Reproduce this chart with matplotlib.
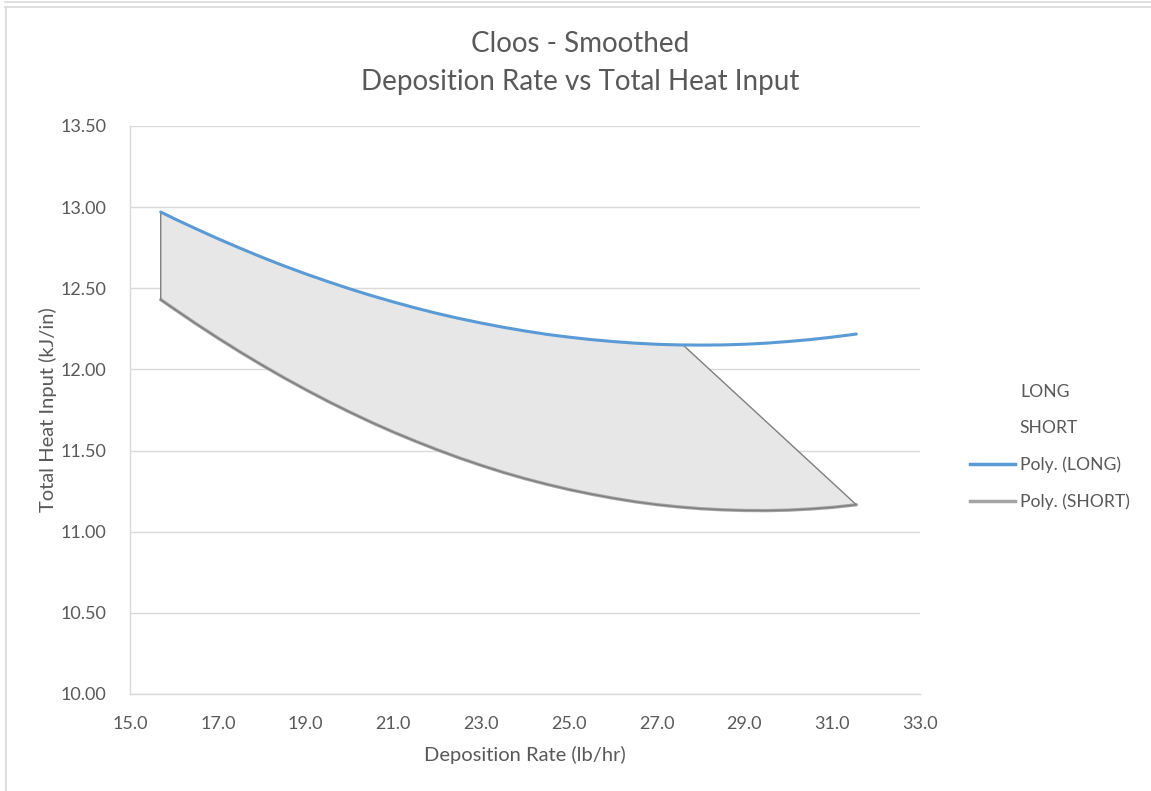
import matplotlib
matplotlib.use("Agg")
import matplotlib.pyplot as plt
from matplotlib.lines import Line2D
from matplotlib.patches import Polygon

plt.rcParams['font.family'] = ['Lato', 'DejaVu Sans']

# Deposition rate (lb/hr) and smoothed heat input (kJ/in) for each torch setup
long_x = [15.7, 16.0, 16.5, 17.0, 17.5, 18.0, 18.5, 19.0, 19.5, 20.0, 20.5, 21.0,
          21.5, 22.0, 22.5, 23.0, 23.5, 24.0, 24.5, 25.0, 25.5, 26.0, 26.5, 27.0,
          27.5, 27.6, 28.0, 28.5, 29.0, 29.5, 30.0, 30.5, 31.0, 31.55]
long_y = [12.970, 12.930, 12.867, 12.806, 12.748, 12.692, 12.639, 12.589, 12.542,
          12.497, 12.455, 12.416, 12.379, 12.345, 12.314, 12.286, 12.260, 12.237,
          12.216, 12.199, 12.184, 12.172, 12.162, 12.155, 12.151, 12.151, 12.150,
          12.151, 12.155, 12.162, 12.172, 12.184, 12.199, 12.218]

short_x = [15.7, 16.0, 16.5, 17.0, 17.5, 18.0, 18.5, 19.0, 19.5, 20.0, 20.5, 21.0,
           21.5, 22.0, 22.5, 23.0, 23.5, 24.0, 24.5, 25.0, 25.5, 26.0, 26.5, 27.0,
           27.5, 28.0, 28.5, 29.0, 29.5, 30.0, 30.5, 31.0, 31.55]
short_y = [12.430, 12.374, 12.282, 12.194, 12.109, 12.028, 11.950, 11.876, 11.805,
           11.738, 11.674, 11.614, 11.558, 11.505, 11.455, 11.409, 11.366, 11.327,
           11.292, 11.260, 11.232, 11.207, 11.185, 11.167, 11.153, 11.142, 11.135,
           11.131, 11.130, 11.133, 11.140, 11.150, 11.166]

# Operating window: LONG curve up to this rate, then straight across to the SHORT curve
window_cut = 27.6

x_ticks = [15.0, 17.0, 19.0, 21.0, 23.0, 25.0, 27.0, 29.0, 31.0, 33.0]
y_ticks = [10.00, 10.50, 11.00, 11.50, 12.00, 12.50, 13.00, 13.50]

TEXT = '#595959'
GRID = '#d9d9d9'
BLUE = '#5b9bd5'
GRAY = '#a5a5a5'

fig = plt.figure(figsize=(11.51, 7.91), dpi=100)
ax = fig.add_axes([130 / 1151, 1 - 694 / 791, 790 / 1151, 568 / 791])

# shaded window polygon
top = [(x, y) for x, y in zip(long_x, long_y) if x <= window_cut]
bottom = list(zip(short_x, short_y))[::-1]
ax.add_patch(Polygon(top + bottom, closed=True, facecolor='#e7e7e7',
                     edgecolor='none', zorder=2))
ax.plot(short_x, short_y, color=GRAY, linewidth=2.4, solid_capstyle='round', zorder=3)
ax.add_patch(Polygon(top + bottom, closed=True, fill=False,
                     edgecolor='#7f7f7f', linewidth=1.0, zorder=3.5))
ax.plot(long_x, long_y, color=BLUE, linewidth=2.2, solid_capstyle='round', zorder=4)

ax.set_xlim(15.0, 33.0)
ax.set_ylim(10.0, 13.5)
ax.set_xticks(x_ticks)
ax.set_yticks(y_ticks)
ax.set_xticklabels([f'{v:.1f}' for v in x_ticks])
ax.set_yticklabels([f'{v:.2f}' for v in y_ticks])
ax.tick_params(axis='both', length=0, labelsize=13, colors=TEXT)
ax.tick_params(axis='x', pad=16)
ax.tick_params(axis='y', pad=17)
ax.grid(axis='y', color=GRID, linewidth=1.0, zorder=0)
ax.set_axisbelow(True)
for side in ['top', 'right']:
    ax.spines[side].set_visible(False)
for side in ['left', 'bottom']:
    ax.spines[side].set_color(GRID)
    ax.spines[side].set_linewidth(1.0)

fig.text(525 / 1151, 1 - 755 / 791, 'Deposition Rate (lb/hr)', ha='center', va='center',
         fontsize=14.5, color=TEXT)
fig.text(48 / 1151, 1 - 410 / 791, 'Total Heat Input (kJ/in)', ha='center', va='center',
         rotation=90, fontsize=14.5, color=TEXT)

fig.text(580 / 1151, 1 - 44 / 791, 'Cloos - Smoothed', ha='center', va='center',
         fontsize=20, color=TEXT)
fig.text(580 / 1151, 1 - 82 / 791, 'Deposition Rate vs Total Heat Input', ha='center',
         va='center', fontsize=20, color=TEXT)

# legend
handles = [Line2D([], [], linestyle='none'),
           Line2D([], [], linestyle='none'),
           Line2D([], [], color=BLUE, linewidth=2.5),
           Line2D([], [], color=GRAY, linewidth=2.5)]
labels = ['LONG', 'SHORT', 'Poly. (LONG)', 'Poly. (SHORT)']
fig.legend(handles, labels, loc='center left', bbox_to_anchor=(963 / 1151, 1 - 447 / 791),
           frameon=False, fontsize=12.6, labelcolor=TEXT, handlelength=2.55,
           handletextpad=0.3, labelspacing=1.15, borderaxespad=0)

# chart frame edges
for (x0, y0, x1, y1) in [(5, 1.5, 1151, 1.5), (5, 6.5, 1151, 6.5), (5.5, 6.5, 5.5, 791)]:
    fig.add_artist(Line2D([x0 / 1151, x1 / 1151], [1 - y0 / 791, 1 - y1 / 791],
                          transform=fig.transFigure, color=GRID, linewidth=1.2))

fig.savefig('out.png', dpi=100)
